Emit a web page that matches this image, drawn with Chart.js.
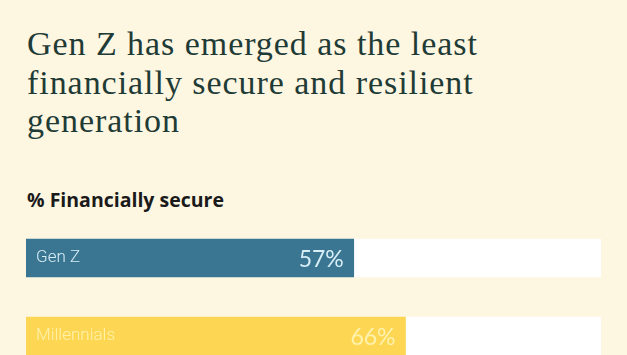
<!DOCTYPE html>
<html>
<head>
<meta charset="utf-8">
<script src="https://cdn.jsdelivr.net/npm/chart.js@4/dist/chart.umd.min.js"></script>
<style>
  html, body { margin: 0; padding: 0; width: 627px; height: 355px; overflow: hidden; background: #fdf6e1; }
  #title { position: absolute; left: 27px; top: 25px; margin: 0; font-family: "Liberation Serif", serif; font-weight: 400; font-size: 34px; line-height: 38.5px; color: #1f3b36; letter-spacing: 0.95px; }
  #sub { position: absolute; left: 27px; top: 186px; margin: 0; font-family: "Open Sans", sans-serif; font-weight: 700; font-size: 19.5px; color: #1a1a1a; }
  #wrap { position: absolute; left: 0; top: 0; width: 627px; height: 400px; }
</style>
</head>
<body>
<h1 id="title">Gen Z has emerged as the least<br>financially secure and resilient<br>generation</h1>
<div id="sub">% Financially secure</div>
<div id="wrap"><canvas id="c" width="627" height="400"></canvas></div>
<script>
const categories = ["Gen Z", "Millennials"];
const securePct = [57, 66];
const trackPct = [100, 100];
const barColors = ["#3a7591", "#fdd753"];
const labelColors = ["#d7eef6", "#fff2ad"];

const valueLabels = {
  id: 'valueLabels',
  afterDatasetsDraw(chart) {
    const ctx = chart.ctx;
    const meta = chart.getDatasetMeta(1);
    ctx.save();
    ctx.font = '400 23px Lato, sans-serif';
    ctx.textAlign = 'right';
    ctx.textBaseline = 'alphabetic';
    meta.data.forEach((bar, i) => {
      ctx.fillStyle = labelColors[i];
      ctx.fillText(securePct[i] + '%', bar.x - 10, bar.y + 9);
    });
    ctx.restore();
  }
};

new Chart(document.getElementById('c'), {
  type: 'bar',
  data: {
    labels: categories,
    datasets: [
      { data: trackPct, backgroundColor: '#ffffff', grouped: false, order: 2, barThickness: 38 },
      { data: securePct, backgroundColor: barColors, grouped: false, order: 1, barThickness: 38 }
    ]
  },
  options: {
    indexAxis: 'y',
    responsive: false,
    animation: false,
    events: [],
    layout: { padding: { left: 26, right: 26, top: 219, bottom: 25 } },
    plugins: { legend: { display: false }, tooltip: { enabled: false }, title: { display: false } },
    scales: {
      x: { display: false, min: 0, max: 100 },
      y: {
        display: true,
        grid: { display: false, drawTicks: false },
        border: { display: false },
        afterFit: s => { s.width = 0; },
        ticks: {
          z: 1,
          mirror: true,
          padding: 10,
          font: { family: 'Roboto', weight: 300, size: 17 },
          color: ctx => labelColors[ctx.index]
        }
      }
    }
  },
  plugins: [valueLabels]
});
</script>
</body>
</html>
